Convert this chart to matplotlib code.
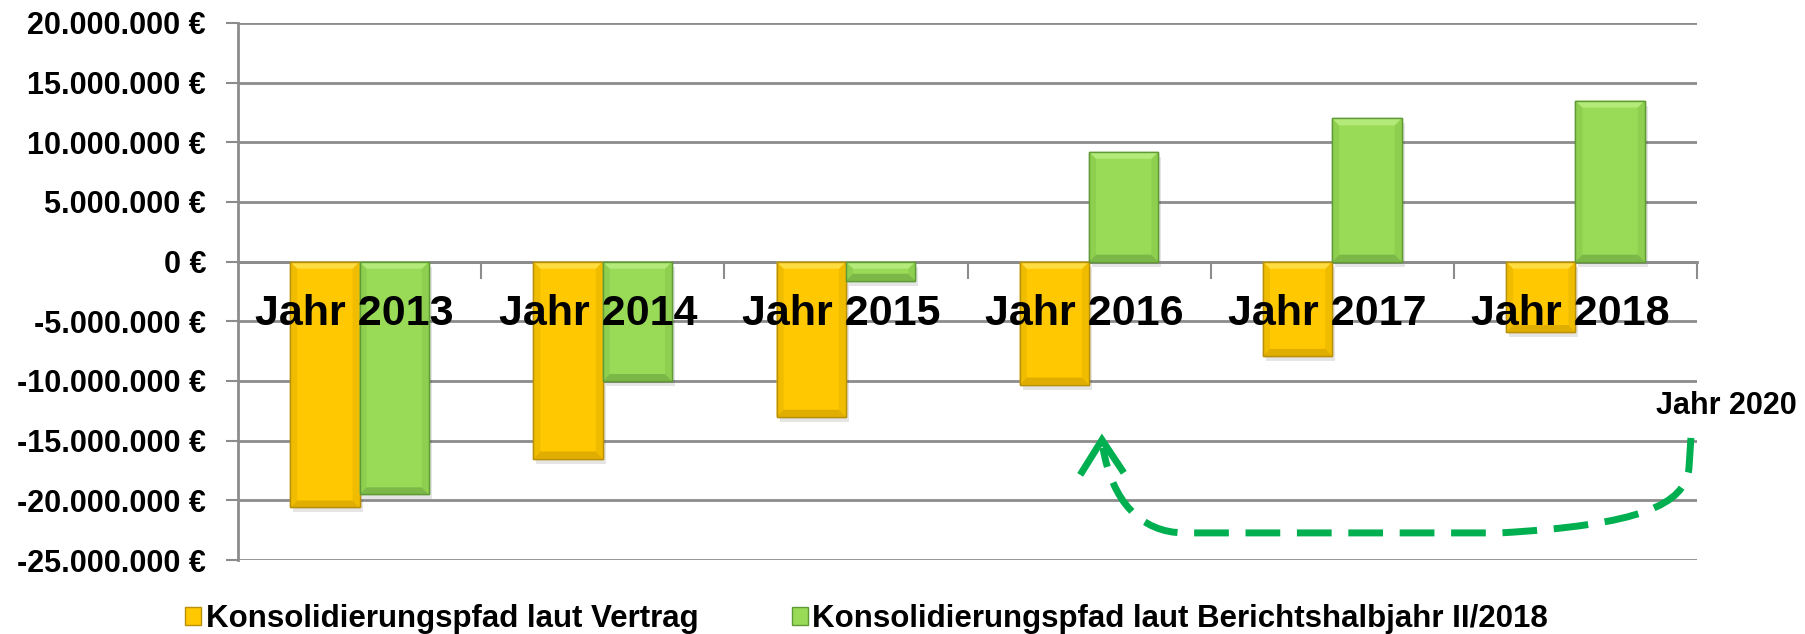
import numpy as np
import matplotlib
matplotlib.use("Agg")
import matplotlib.pyplot as plt
from matplotlib.patches import Polygon, Patch, Rectangle, PathPatch
from matplotlib.path import Path

# ==============================================================
# Daten
# ==============================================================
jahre = ["Jahr 2013", "Jahr 2014", "Jahr 2015", "Jahr 2016", "Jahr 2017", "Jahr 2018"]
vertrag = [-20.6e6, -16.5e6, -13.0e6, -10.3e6, -7.9e6, -5.9e6]
bericht = [-19.5e6, -10.0e6, -1.6e6, 9.2e6, 12.0e6, 13.5e6]
y_ticks = np.arange(-25e6, 20e6 + 1, 5e6)
legende = ["Konsolidierungspfad laut Vertrag",
           "Konsolidierungspfad laut Berichtshalbjahr II/2018"]
ziel_text = "Jahr 2020"

plt.rcParams["font.family"] = ["Liberation Sans", "DejaVu Sans"]
plt.rcParams["font.weight"] = "bold"

GRAU = "#8C8C8C"
# face, hell, unten, seite, rand
ORANGE = ("#FFC800", "#FFDD40", "#E0AE00", "#F0BC00", "#B8900A")
GRUEN = ("#99DA57", "#B4EA7A", "#7CB847", "#8ECF50", "#5F9A35")


def euro(v):
    return f"{int(round(v)):,}".replace(",", ".") + " €"


# ==============================================================
# Figur
# ==============================================================
fig = plt.figure(figsize=(18.06, 6.34), dpi=100)
ax_pos = [238 / 1806, 1 - 560 / 634, (1697 - 238) / 1806, (560 - 23) / 634]
ax = fig.add_axes(ax_pos)
ax.set_xlim(-0.5, 5.5)
ax.set_ylim(-25e6, 20e6)

px_x = ax_pos[2] * 1806 / 6.0      # Pixel pro Kategorie
px_y = ax_pos[3] * 634 / 45e6      # Pixel pro Euro

x = np.arange(len(jahre))
w = 0.285


def balken(xs, werte, farben):
    face, hell, unten, seite, rand = farben
    bars = ax.bar(xs, werte, w, align="edge", color=face,
                  edgecolor=rand, linewidth=1, zorder=3)
    bx = 7 / px_x
    by = 7 / px_y
    for b in bars:
        x0 = b.get_x()
        x1 = x0 + b.get_width()
        y0 = b.get_y()
        y1 = y0 + b.get_height()
        top, bot = max(y0, y1), min(y0, y1)
        # Schatten
        ax.add_patch(Rectangle((x0 + 3 / px_x, bot - 5 / px_y), x1 - x0, top - bot,
                               color="#000000", alpha=0.10, lw=0, zorder=2))
        # Bevel
        ax.add_patch(Polygon([(x0, bot), (x0 + bx, bot + by), (x0 + bx, top - by), (x0, top)],
                             closed=True, color=seite, lw=0, zorder=4))
        ax.add_patch(Polygon([(x1, bot), (x1 - bx, bot + by), (x1 - bx, top - by), (x1, top)],
                             closed=True, color=seite, lw=0, zorder=4))
        ax.add_patch(Polygon([(x0, top), (x1, top), (x1 - bx, top - by), (x0 + bx, top - by)],
                             closed=True, color=hell, lw=0, zorder=4))
        ax.add_patch(Polygon([(x0, bot), (x1, bot), (x1 - bx, bot + by), (x0 + bx, bot + by)],
                             closed=True, color=unten, lw=0, zorder=4))
        ax.add_patch(Rectangle((x0, bot), x1 - x0, top - bot, fill=False,
                               edgecolor=rand, lw=1, zorder=4))
    return bars


balken(x - w, vertrag, ORANGE)
balken(x, bericht, GRUEN)

# ==============================================================
# Achsen
# ==============================================================
ax.set_yticks(y_ticks)
ax.set_yticklabels([euro(v) for v in y_ticks], fontsize=22, fontweight="bold")
ax.tick_params(axis="y", length=9, width=1.5, color=GRAU, pad=14)
ax.yaxis.grid(True, color=GRAU, linewidth=2)
ax.set_axisbelow(True)

ax.set_xticks(np.arange(0.5, 5.6, 1.0))
ax.set_xticklabels([])
ax.tick_params(axis="x", length=12, width=1.5, color=GRAU, direction="out")

for s in ["top", "right"]:
    ax.spines[s].set_visible(False)
ax.spines["left"].set_color(GRAU)
ax.spines["left"].set_linewidth(2)
ax.spines["bottom"].set_position(("data", 0))
ax.spines["bottom"].set_color(GRAU)
ax.spines["bottom"].set_linewidth(2)

for i, j in enumerate(jahre):
    ax.text(i - 0.02, -4.4e6, j, ha="center", va="center", fontsize=31,
            fontweight="bold", zorder=6)

# ==============================================================
# Pfeil zum Jahr 2020
# ==============================================================
ax.text(5.62, -12.1e6, ziel_text, ha="center", va="center", fontsize=22,
        fontweight="bold", clip_on=False)

pfeil = [(5.475, -14.77e6), (5.467, -17.29e6),
         (5.451, -20.39e6), (5.266, -22.06e6), (4.690, -22.73e6),
         (3.394, -22.73e6),
         (3.209, -22.73e6), (3.094, -19.97e6), (3.057, -15.6e6)]
codes = [Path.MOVETO, Path.LINETO,
         Path.CURVE4, Path.CURVE4, Path.CURVE4,
         Path.LINETO,
         Path.CURVE4, Path.CURVE4, Path.CURVE4]
ax.add_patch(PathPatch(Path(pfeil, codes), fill=False, edgecolor="#00B050",
                       lw=5, linestyle=(0, (5, 2.4)), capstyle="butt",
                       zorder=5, clip_on=False))
spitze_x = [2.971, 3.053, 3.135]
spitze_y = [-17.62e6, -14.94e6, -17.45e6]
ax.plot(spitze_x, spitze_y, color="#00B050", lw=5, solid_joinstyle="miter",
        zorder=5, clip_on=False)

# ==============================================================
# Legende
# ==============================================================
handles = [Patch(facecolor=ORANGE[0], edgecolor=ORANGE[4]),
           Patch(facecolor=GRUEN[0], edgecolor=GRUEN[4])]
fig.legend(handles, legende, ncol=2, loc="center",
           bbox_to_anchor=(0.480, 1 - 619 / 634), frameon=False,
           prop={"size": 22.5, "weight": "bold"},
           handlelength=0.5, handleheight=0.55, handletextpad=0.15,
           columnspacing=3.0, borderpad=0, borderaxespad=0)

fig.savefig("out.png", dpi=100)
